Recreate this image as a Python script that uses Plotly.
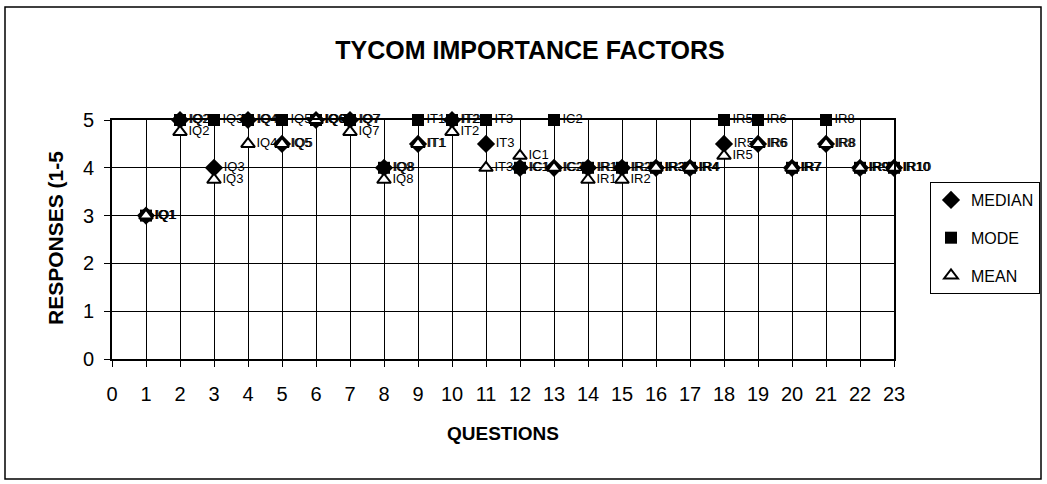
import plotly.graph_objects as go

questions = list(range(1, 24))
labels = ["IQ1", "IQ2", "IQ3", "IQ4", "IQ5", "IQ6", "IQ7", "IQ8",
          "IT1", "IT2", "IT3", "IC1", "IC2",
          "IR1", "IR2", "IR3", "IR4", "IR5", "IR6", "IR7", "IR8", "IR9", "IR10"]
median = [3, 5, 4, 5, 4.5, 5, 5, 4, 4.5, 5, 4.5, 4, 4, 4, 4, 4, 4, 4.5, 4.5, 4, 4.5, 4, 4]
mode = [3, 5, 5, 5, 5, 5, 5, 4, 5, 5, 5, 4, 5, 4, 4, 4, 4, 5, 5, 4, 5, 4, 4]
mean = [3, 4.75, 3.75, 4.5, 4.5, 5, 4.75, 3.75, 4.5, 4.75, 4.0, 4.25, 4.0,
        3.75, 3.75, 4.0, 4.0, 4.25, 4.5, 4.0, 4.5, 4.0, 4.0]

FONT = "Liberation Sans, Arial, sans-serif"
lab_font = dict(family=FONT, size=13, color="black")

fig = go.Figure()
fig.add_trace(go.Scatter(x=questions, y=median, mode="markers+text", name="MEDIAN",
                         legendgroup="g1",
                         text=labels, textposition="middle right", textfont=lab_font,
                         marker=dict(symbol="diamond", size=14, color="black"),
                         cliponaxis=False))
fig.add_trace(go.Scatter(x=questions, y=mode, mode="markers+text", name="MODE",
                         legendgroup="g2",
                         text=labels, textposition="middle right", textfont=lab_font,
                         marker=dict(symbol="square", size=12, color="black"),
                         cliponaxis=False))
fig.add_trace(go.Scatter(x=questions, y=mean, mode="markers+text", name="MEAN",
                         legendgroup="g3",
                         text=labels, textposition="middle right", textfont=lab_font,
                         marker=dict(symbol="triangle-up", size=12, color="white",
                                     line=dict(color="black", width=2)),
                         cliponaxis=False))

# plot area: x 112..894 px, y 120..359 px
L, R, T, B = 112, 894, 120, 359
W, H = 1047, 484
pw, ph = R - L, B - T

def px(xp):
    return (xp - L) / pw

def py(yp):
    return (B - yp) / ph

axis_common = dict(showgrid=True, gridcolor="black", gridwidth=1,
                   showline=True, linecolor="black", linewidth=2, mirror=True,
                   ticks="outside", ticklen=6, tickcolor="black",
                   zeroline=False, tickfont=dict(family=FONT, size=20, color="black"))

fig.update_layout(
    width=W, height=H,
    margin=dict(l=L, r=W - R, t=T, b=H - B, autoexpand=False),
    paper_bgcolor="white", plot_bgcolor="white",
    showlegend=True,
    title=dict(text="<b>TYCOM IMPORTANCE FACTORS</b>", x=530 / W, xref="container",
               xanchor="center", y=1 - 50 / H, yref="container", yanchor="middle",
               font=dict(family=FONT, size=25, color="black")),
    xaxis=dict(range=[0, 23], dtick=1, tick0=0, ticklabelstandoff=10, **axis_common),
    yaxis=dict(range=[0, 5], dtick=1, tick0=0, ticklabelstandoff=6, **axis_common),
    legend=dict(x=px(930), y=py(182), xanchor="left", yanchor="top",
                bordercolor="black", borderwidth=1, bgcolor="white",
                font=dict(family=FONT, size=16, color="black"),
                itemwidth=30, tracegroupgap=14),
    annotations=[
        dict(text="<b>RESPONSES (1-5</b>", x=px(55), y=py(238), xref="paper", yref="paper",
             textangle=-90, showarrow=False, xanchor="center", yanchor="middle",
             font=dict(family=FONT, size=21, color="black")),
        dict(text="<b>QUESTIONS</b>", x=px(503), y=py(433), xref="paper", yref="paper",
             showarrow=False, xanchor="center", yanchor="middle",
             font=dict(family=FONT, size=19, color="black")),
    ],
    shapes=[dict(type="rect", xref="paper", yref="paper",
                 x0=px(5), x1=px(1041), y0=py(479), y1=py(7),
                 line=dict(color="black", width=1.5), layer="below")],
)

fig.write_html("out.html", config={"displayModeBar": False},
               post_script="document.body.style.margin='0';document.body.style.overflow='hidden';")
